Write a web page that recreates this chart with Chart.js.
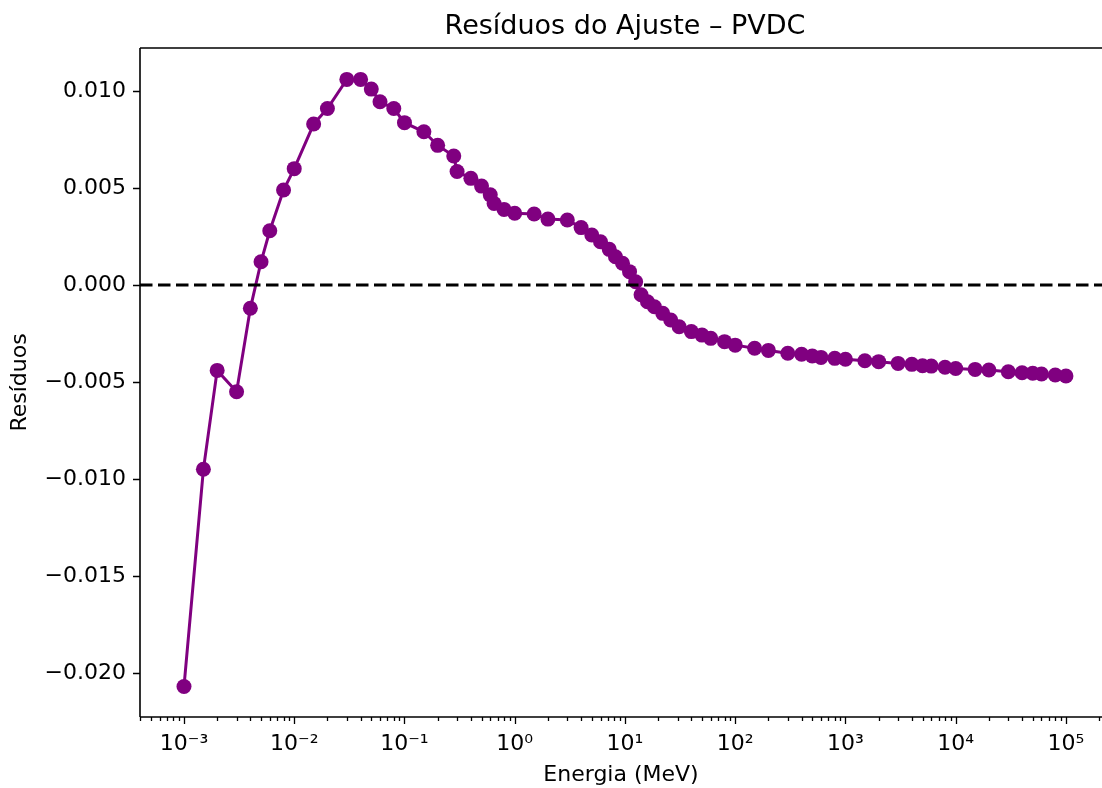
<!DOCTYPE html>
<html>
<head>
<meta charset="utf-8">
<script src="https://cdn.jsdelivr.net/npm/chart.js@4/dist/chart.umd.min.js"></script>
<style>
  body { margin: 0; background: #fff; }
</style>
</head>
<body>
<canvas id="grafico" width="1102" height="788"></canvas>
<script>
// Energias (MeV) e resíduos
const energias = [
  0.001, 0.0015, 0.002, 0.003, 0.004, 0.005, 0.006, 0.008,
  0.01, 0.015, 0.02, 0.03, 0.04, 0.05, 0.06, 0.08,
  0.1, 0.15, 0.2, 0.28, 0.3, 0.4, 0.5, 0.6, 0.65, 0.8,
  1, 1.5, 2, 3, 4, 5,
  6, 7.2, 8.2, 9.5, 11, 12.5, 14, 16, 18.5, 22, 26, 31,
  40, 50, 60, 80,
  100, 150, 200, 300, 400, 500, 600, 800,
  1000, 1500, 2000, 3000, 4000, 5000, 6000, 8000,
  10000, 15000, 20000, 30000, 40000, 50000, 60000, 80000, 100000
];
const residuos = [
  -0.0207, -0.0095, -0.0044, -0.0055, -0.0012, 0.0012, 0.0028, 0.0049,
  0.0060, 0.0083, 0.0091, 0.0106, 0.0106, 0.0101, 0.00945, 0.0091,
  0.00837, 0.0079, 0.0072, 0.00665, 0.00585, 0.0055, 0.0051, 0.00465, 0.0042, 0.0039,
  0.0037, 0.00366, 0.0034, 0.00335, 0.00296, 0.00258,
  0.00223, 0.00184, 0.00146, 0.00112, 0.00069, 0.00017, -0.0005, -0.00086, -0.00112, -0.00146, -0.0018, -0.00215,
  -0.0024, -0.00258, -0.00275, -0.00292,
  -0.0031, -0.00326, -0.00337, -0.00352, -0.00357, -0.00366, -0.00373, -0.00378,
  -0.00383, -0.0039, -0.00395, -0.00404, -0.00409, -0.00416, -0.00418, -0.00424,
  -0.0043, -0.00435, -0.00438, -0.00447, -0.00452, -0.00455, -0.00459, -0.00464, -0.00469
];
const expoentesX = [-3, -2, -1, 0, 1, 2, 3, 4, 5];
const ticksY = [-0.020, -0.015, -0.010, -0.005, 0.000, 0.005, 0.010];

const roxo = "#800080";
const sup = { "-": "⁻", "0": "⁰", "1": "¹", "2": "²", "3": "³", "4": "⁴", "5": "⁵", "6": "⁶", "7": "⁷", "8": "⁸", "9": "⁹" };

const xMin = Math.pow(10, -3.399);
const xMax = Math.pow(10, 5.327);

Chart.defaults.font.family = "'DejaVu Sans', sans-serif";
Chart.defaults.color = "#000";

const pontos = energias.map((e, i) => ({ x: e, y: residuos[i] }));

function isPotencia(v) {
  const l = Math.log10(v);
  return Math.abs(l - Math.round(l)) < 1e-9;
}

const eixos = {
  id: "eixos",
  afterDatasetsDraw(chart) {
    const { ctx, chartArea: a, scales } = chart;
    const y0 = scales.y.getPixelForValue(0);
    ctx.save();
    ctx.beginPath();
    ctx.rect(a.left, a.top, a.right - a.left, a.bottom - a.top);
    ctx.clip();
    ctx.strokeStyle = "#000";
    ctx.lineWidth = 3;
    ctx.setLineDash([12.5, 5.5]);
    ctx.beginPath();
    ctx.moveTo(a.left, y0);
    ctx.lineTo(a.right, y0);
    ctx.stroke();
    ctx.restore();
  },
  afterDraw(chart) {
    const { ctx, chartArea: a, scales } = chart;
    ctx.save();
    ctx.strokeStyle = "#000";
    ctx.lineWidth = 1.6;
    ctx.beginPath();
    ctx.moveTo(a.left, a.top); ctx.lineTo(a.right + 2, a.top);
    ctx.moveTo(a.left, a.top); ctx.lineTo(a.left, a.bottom);
    ctx.moveTo(a.left, a.bottom); ctx.lineTo(a.right + 2, a.bottom);
    ctx.stroke();
    ctx.lineWidth = 1.3;
    ctx.beginPath();
    scales.x.ticks.forEach(t => {
      const px = Math.round(scales.x.getPixelForValue(t.value)) + 0.5;
      const len = isPotencia(t.value) ? 7 : 4;
      ctx.moveTo(px, a.bottom); ctx.lineTo(px, a.bottom + len);
    });
    scales.y.ticks.forEach(t => {
      const py = Math.round(scales.y.getPixelForValue(t.value)) + 0.5;
      ctx.moveTo(a.left, py); ctx.lineTo(a.left - 7, py);
    });
    ctx.stroke();
    ctx.fillStyle = "#000";
    ctx.font = "27px 'DejaVu Sans', sans-serif";
    ctx.textAlign = "center";
    ctx.textBaseline = "middle";
    ctx.fillText("Resíduos do Ajuste – PVDC", 625, 27);
    ctx.restore();
  }
};

new Chart(document.getElementById("grafico"), {
  type: "line",
  data: {
    datasets: [{
      label: "Resíduos",
      data: pontos,
      borderColor: roxo,
      backgroundColor: roxo,
      borderWidth: 3,
      pointRadius: 7.5,
      pointHoverRadius: 7.5,
      pointBorderWidth: 0,
      tension: 0
    }]
  },
  options: {
    responsive: false,
    animation: false,
    layout: { autoPadding: false, padding: { top: 48, right: 0, left: 0, bottom: 0 } },
    plugins: {
      legend: { display: false },
      title: { display: false },
      tooltip: { enabled: false }
    },
    scales: {
      x: {
        type: "logarithmic",
        min: xMin,
        max: xMax,
        grid: { display: false },
        border: { display: false },
        afterBuildTicks(scale) {
          const t = [];
          expoentesX.concat([-4]).forEach(p => {
            for (let k = 1; k <= 9; k++) {
              const v = k * Math.pow(10, p);
              if (v >= xMin && v <= xMax) t.push({ value: v });
            }
          });
          t.sort((a, b) => a.value - b.value);
          scale.ticks = t;
        },
        afterFit(scale) {
          scale.height = 71;
          scale.paddingLeft = 0;
          scale.paddingRight = 0;
        },
        ticks: {
          autoSkip: false,
          maxRotation: 0,
          padding: 6,
          font: { size: 22 },
          callback(v) {
            if (!isPotencia(v)) return "";
            const p = Math.round(Math.log10(v));
            if (!expoentesX.includes(p)) return "";
            return "10" + String(p).split("").map(c => sup[c]).join("");
          }
        },
        title: {
          display: true,
          text: "Energia (MeV)",
          font: { size: 22 },
          padding: { top: 0, bottom: 0 }
        }
      },
      y: {
        type: "linear",
        min: -0.02227,
        max: 0.01222,
        grid: { display: false },
        border: { display: false },
        afterBuildTicks(scale) {
          scale.ticks = ticksY.map(v => ({ value: v }));
        },
        afterFit(scale) { scale.width = 140; },
        ticks: {
          autoSkip: false,
          padding: 6,
          font: { size: 22 },
          callback(v) {
            const s = Math.abs(v) < 1e-12 ? "0.000" : v.toFixed(3);
            return s.replace("-", "−");
          }
        },
        title: {
          display: true,
          text: "Resíduos",
          font: { size: 22 },
          padding: { top: 7, bottom: 0 }
        }
      }
    }
  },
  plugins: [eixos]
});
</script>
</body>
</html>
